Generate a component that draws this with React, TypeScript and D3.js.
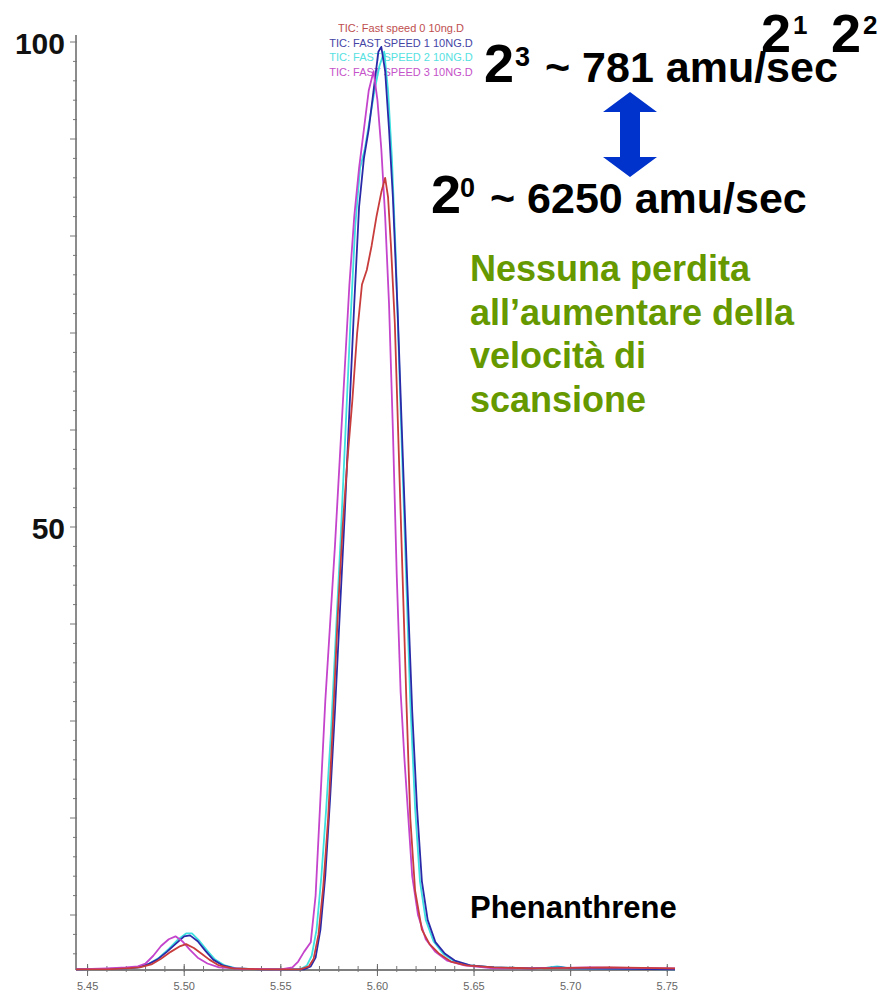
import React from "react";
import * as d3 from "d3";

const xTickValues = [5.45, 5.5, 5.55, 5.6, 5.65, 5.7, 5.75];
const xTickLabels = ["5.45", "5.50", "5.55", "5.60", "5.65", "5.70", "5.75"];
const yTickValues = [100, 50];
const yTickLabels = ["100", "50"];

const legendLabels = [
  "TIC: Fast speed 0 10ng.D",
  "TIC: FAST SPEED 1 10NG.D",
  "TIC: FAST SPEED 2 10NG.D",
  "TIC: FAST SPEED 3 10NG.D",
];

const speed0: [number, number][] = [
  [5.444, 4.4], [5.46, 4.4], [5.47, 4.5], [5.477, 4.6], [5.483, 4.9], [5.488, 5.5], [5.493, 6.2],
  [5.498, 6.8], [5.501, 7.0], [5.505, 6.6], [5.509, 6.0], [5.513, 5.4], [5.518, 4.8], [5.525, 4.5],
  [5.54, 4.4], [5.56, 4.4], [5.5645, 4.7], [5.567, 5.5], [5.5695, 8], [5.572, 13], [5.5745, 20],
  [5.577, 30], [5.5795, 41], [5.582, 50], [5.5845, 57], [5.587, 63], [5.5895, 70], [5.592, 75],
  [5.5945, 76.5], [5.597, 79], [5.5995, 82], [5.602, 84.5], [5.604, 86], [5.6055, 84], [5.607, 79],
  [5.609, 71], [5.611, 58], [5.613, 45], [5.615, 32], [5.617, 20], [5.6195, 12.5], [5.623, 8.5],
  [5.627, 7], [5.632, 6], [5.638, 5.2], [5.646, 4.8], [5.66, 4.6], [5.68, 4.5], [5.72, 4.6], [5.754, 4.5],
];

const speed1: [number, number][] = [
  [5.444, 4.4], [5.46, 4.45], [5.47, 4.5], [5.476, 4.6], [5.481, 4.9], [5.486, 5.4], [5.491, 6.2],
  [5.496, 7.1], [5.5, 7.8], [5.503, 7.9], [5.507, 7.3], [5.511, 6.3], [5.515, 5.4], [5.52, 4.8],
  [5.526, 4.5], [5.54, 4.4], [5.562, 4.4], [5.5655, 4.7], [5.568, 5.6], [5.5705, 8.5], [5.573, 14],
  [5.5755, 22], [5.578, 31], [5.5805, 41], [5.583, 51], [5.5855, 62], [5.588, 73], [5.5905, 83],
  [5.593, 88], [5.5955, 91], [5.598, 95], [5.6005, 99], [5.602, 99.5], [5.604, 97], [5.606, 91],
  [5.608, 84], [5.6105, 72], [5.613, 58], [5.6155, 44], [5.618, 31], [5.6205, 21], [5.623, 13.5],
  [5.626, 9.5], [5.63, 7.2], [5.635, 6], [5.64, 5.3], [5.648, 4.8], [5.66, 4.6], [5.68, 4.5],
  [5.695, 4.6], [5.7, 4.5], [5.754, 4.4],
];

const speed2: [number, number][] = [
  [5.444, 4.4], [5.46, 4.4], [5.47, 4.5], [5.477, 4.6], [5.482, 5.0], [5.487, 5.6], [5.492, 6.5],
  [5.497, 7.5], [5.501, 8.1], [5.504, 8.1], [5.508, 7.3], [5.512, 6.3], [5.516, 5.4], [5.521, 4.8],
  [5.527, 4.5], [5.54, 4.4], [5.56, 4.4], [5.5635, 4.8], [5.566, 5.8], [5.5685, 8.5], [5.571, 14],
  [5.5735, 21], [5.576, 29], [5.5785, 39], [5.581, 49], [5.5835, 60], [5.586, 71], [5.5885, 81],
  [5.591, 87], [5.5935, 89], [5.596, 92], [5.5985, 95], [5.601, 97.5], [5.6035, 99], [5.6055, 95],
  [5.6075, 88], [5.6095, 78], [5.612, 62], [5.6145, 47], [5.617, 32], [5.6195, 21], [5.622, 13.5],
  [5.625, 9.5], [5.629, 7.3], [5.634, 6], [5.64, 5.2], [5.648, 4.8], [5.66, 4.6], [5.685, 4.5],
  [5.693, 4.7], [5.7, 4.5], [5.754, 4.4],
];

const speed3: [number, number][] = [
  [5.444, 4.4], [5.46, 4.5], [5.47, 4.6], [5.476, 4.7], [5.48, 5.0], [5.484, 5.8], [5.488, 6.8],
  [5.492, 7.5], [5.4955, 7.8], [5.499, 7.3], [5.503, 6.4], [5.507, 5.6], [5.512, 5.0], [5.518, 4.6],
  [5.53, 4.45], [5.55, 4.4], [5.556, 4.6], [5.559, 5.2], [5.562, 6.2], [5.5655, 7.2], [5.568, 12],
  [5.5705, 22], [5.573, 32], [5.5755, 40], [5.578, 48], [5.5805, 57], [5.583, 66], [5.5855, 75],
  [5.588, 82], [5.5905, 87], [5.593, 91], [5.5955, 95], [5.598, 97], [5.6, 94], [5.602, 89],
  [5.604, 82], [5.606, 73], [5.608, 60], [5.61, 45], [5.612, 33], [5.614, 26], [5.616, 20],
  [5.618, 14], [5.621, 10], [5.625, 7.5], [5.63, 6.2], [5.636, 5.3], [5.645, 4.8], [5.66, 4.5],
  [5.68, 4.5], [5.71, 4.6], [5.754, 4.5],
];

const seriesData = [speed0, speed1, speed2, speed3];
const seriesColors = ["#c83c3c", "#2a2aa8", "#3ee0e0", "#c444cc"];
const legendColors = ["#b83a3a", "#30309c", "#44dede", "#c040c4"];
const drawOrder = [2, 1, 3, 0];

const greenLines = ["Nessuna perdita", "all\u2019aumentare della", "velocit\u00e0 di", "scansione"];

const FONT = "'Liberation Sans', Arial, sans-serif";

export default function App() {
  const W = 882;
  const H = 995;
  const x = d3.scaleLinear().domain([5.444, 5.754]).range([76, 675]);
  const y = d3.scaleLinear().domain([4.33, 100]).range([970, 42]);
  const line = d3
    .line<[number, number]>()
    .x((d) => x(d[0]))
    .y((d) => y(d[1]))
    .curve(d3.curveLinear);

  const minorX = d3.range(5.45, 5.755, 0.01);
  const minorY = d3.range(6, 100.1, 2);

  return (
    <svg
      width={W}
      height={H}
      style={{ position: "absolute", left: 0, top: 0, background: "#fff" }}
      fontFamily={FONT}
    >
      <rect x={0} y={0} width={W} height={H} fill="#fff" />
      {/* axes */}
      <line x1={x(5.444)} x2={x(5.444)} y1={35} y2={970} stroke="#666" strokeWidth={1.5} />
      <line x1={x(5.444)} x2={x(5.754)} y1={970} y2={970} stroke="#555" strokeWidth={1.5} />
      {minorY.map((v, i) => (
        <line
          key={"my" + i}
          x1={x(5.444) - (Math.round(v) % 10 === 0 ? 6 : 3)}
          x2={x(5.444) + 1}
          y1={y(v)}
          y2={y(v)}
          stroke="#777"
          strokeWidth={1}
        />
      ))}
      {minorX.map((v, i) => (
        <line key={"mx" + i} x1={x(v)} x2={x(v)} y1={966} y2={972} stroke="#777" strokeWidth={1} />
      ))}
      {xTickValues.map((v, i) => (
        <g key={"xt" + i}>
          <line x1={x(v)} x2={x(v)} y1={964} y2={976} stroke="#666" strokeWidth={1} />
          <text x={x(v)} y={990} textAnchor="middle" fontSize={11} fill="#666">
            {xTickLabels[i]}
          </text>
        </g>
      ))}
      {yTickValues.map((v, i) => (
        <text key={"yt" + i} x={65} y={y(v) + 12} textAnchor="end" fontSize={30} fontWeight="bold" fill="#111">
          {yTickLabels[i]}
        </text>
      ))}

      {/* legend */}
      {legendLabels.map((t, i) => (
        <text
          key={"lg" + i}
          x={401}
          y={32 + i * 14.5}
          textAnchor="middle"
          fontSize={11}
          fill={legendColors[i]}
          opacity={0.9}
        >
          {t}
        </text>
      ))}

      {/* traces */}
      {drawOrder.map((si) => (
        <path
          key={"s" + si}
          d={line(seriesData[si]) || ""}
          fill="none"
          stroke={seriesColors[si]}
          strokeWidth={1.8}
          strokeLinejoin="round"
        />
      ))}

      {/* annotations */}
      <text x={484} y={82} fontSize={54} fontWeight="bold" fill="#000">2</text>
      <text x={515} y={66} fontSize={27} fontWeight="bold" fill="#000">3</text>
      <text x={545} y={82} fontSize={43} fontWeight="bold" fill="#000">~ 781 amu/sec</text>

      <text x={761} y={52} fontSize={54} fontWeight="bold" fill="#000">2</text>
      <text x={793} y={34} fontSize={26} fontWeight="bold" fill="#000">1</text>
      <text x={831} y={52} fontSize={54} fontWeight="bold" fill="#000">2</text>
      <text x={863} y={34} fontSize={26} fontWeight="bold" fill="#000">2</text>

      <polygon
        points="630,92 657,112 640,112 640,157 657,157 630,177 603,157 620,157 620,112 603,112"
        fill="#0033cc"
      />

      <text x={431} y={213} fontSize={54} fontWeight="bold" fill="#000">2</text>
      <text x={460} y={197} fontSize={27} fontWeight="bold" fill="#000">0</text>
      <text x={490} y={213} fontSize={43} fontWeight="bold" fill="#000">~ 6250 amu/sec</text>

      {greenLines.map((t, i) => (
        <text key={"g" + i} x={470} y={281 + i * 43.7} fontSize={36} fontWeight="bold" fill="#669900">
          {t}
        </text>
      ))}

      <text x={470} y={918} fontSize={31} fontWeight="bold" fill="#000">Phenanthrene</text>
    </svg>
  );
}
